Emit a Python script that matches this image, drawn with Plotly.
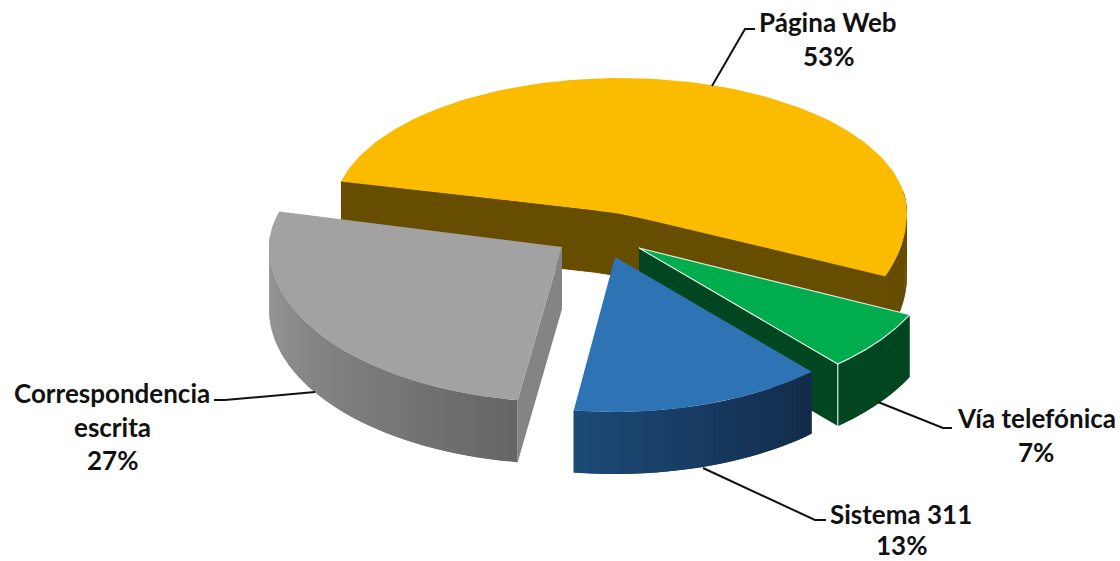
import numpy as np
import plotly.graph_objects as go

categories = ["Página Web", "Vía telefónica", "Sistema 311", "Correspondencia escrita"]
values = [53, 7, 13, 27]
label_lines = [["Página Web"], ["Vía telefónica"], ["Sistema 311"], ["Correspondencia", "escrita"]]

START = -76.5
DEPTH = 62
RY_BACK = 135
# per slice: centre x, centre y, radius x, front radius y
GEOM = [(620, 213, 287, 165), (639, 248, 300, 155), (615, 257, 293, 155), (562, 247, 293, 155)]
# small angular correction at each slice edge, standing in for the perspective of the 3D view
WARP = [(0, -1.8), (1.2, -1.0), (-1.7, 1.8), (2.4, 1.8)]
TOP = ["#FBBC00", "#00AD4E", "#2E74B5", "#A2A2A2"]
WALL = [("#674D00", "#674D00"), ("#004620", "#004620"), ("#132B4B", "#1C4A77"), ("#666666", "#9C9C9C")]
CUT = ["#674D00", "#004620", None, "#848484"]


def pt(i, deg):
    cx, cy, rx, ry_front = GEOM[i]
    t = np.radians(deg)
    c = np.cos(t)
    ry = RY_BACK if c > 0 else ry_front
    return cx + rx * np.sin(t), cy - ry * c


def arc(i, a, b, n=120):
    pts = [pt(i, d) for d in np.linspace(a, b, n)]
    return [p[0] for p in pts], [p[1] for p in pts]


def poly(fig, xs, ys, color, line=None, lw=0):
    fig.add_trace(go.Scatter(
        x=list(xs), y=list(ys), mode="lines", fill="toself", fillcolor=color,
        line=dict(color=line or color, width=lw), hoverinfo="skip", showlegend=False))


def mix(c1, c2, f):
    a = [int(c1[k:k + 2], 16) for k in (1, 3, 5)]
    b = [int(c2[k:k + 2], 16) for k in (1, 3, 5)]
    return "#%02X%02X%02X" % tuple(round(u + (v - u) * f) for u, v in zip(a, b))


def rounded_apex(p0, c, p1, r=32, n=10):
    """Path from p0 to p1 through the centre c, with the sharp corner softened."""
    p0, c, p1 = map(np.array, (p0, c, p1))
    u0 = c + (p0 - c) / np.linalg.norm(p0 - c) * r
    u1 = c + (p1 - c) / np.linalg.norm(p1 - c) * r
    ts = np.linspace(0, 1, n)
    curve = [(1 - t) ** 2 * u0 + 2 * t * (1 - t) * c + t ** 2 * u1 for t in ts]
    return [p[0] for p in curve], [p[1] for p in curve]


fig = go.Figure()
edges = START + np.cumsum([0] + [v * 3.6 for v in values])
spans = [(edges[i] + WARP[i][0], edges[i + 1] + WARP[i][1]) for i in range(4)]
cx_ = lambda i: GEOM[i][0]
cy_ = lambda i: GEOM[i][1]

for i in [0, 1, 2, 3]:
    a, b = spans[i]
    apex = None
    # outer wall: overlapping narrow strips give the horizontal gradient without seams.
    # Only the part of the rim facing the viewer is drawn.
    n = 40
    begin = max(a, 80) if i == 0 else a
    end = min(b, 275) if i == 3 else b
    ticks = np.linspace(begin, end, n + 1)
    for k in range(n):
        hi = ticks[min(k + 2, n)]
        ax, ay = arc(i, ticks[k], hi, 8)
        f = k / (n - 1)
        poly(fig, ax + ax[::-1], ay + [y + DEPTH for y in ay[::-1]], mix(WALL[i][0], WALL[i][1], f))
    # cut walls
    if i == 0:
        pa, pb = pt(0, a), pt(0, b)
        apex = rounded_apex(pb, (cx_(0), cy_(0)), pa)
        poly(fig, [pa[0]] + apex[0][::-1] + [pb[0], pb[0]] + apex[0] + [pa[0]],
             [pa[1]] + apex[1][::-1] + [pb[1], pb[1] + DEPTH] + [y + DEPTH for y in apex[1]] + [pa[1] + DEPTH],
             CUT[0], lw=1)
    if i == 1:
        xb, yb = pt(1, b)
        poly(fig, [cx_(1), xb, xb, cx_(1)], [cy_(1), yb, yb + DEPTH, cy_(1) + DEPTH], CUT[1])
    if i == 3:
        xa, ya = pt(3, a)
        poly(fig, [cx_(3), xa, xa, cx_(3)], [cy_(3), ya, ya + DEPTH, cy_(3) + DEPTH], CUT[3])
    # top face
    ax, ay = arc(i, a, b)
    if i == 0:
        poly(fig, apex[0] + ax, apex[1] + ay, TOP[i])
    elif i == 1:
        poly(fig, [cx_(i)] + ax + [cx_(i)], [cy_(i)] + ay + [cy_(i)], TOP[i], line="#DDEBE2", lw=1.2)
        xf, yf = pt(1, b)
        fig.add_trace(go.Scatter(x=[xf, xf], y=[yf, yf + DEPTH], mode="lines",
                                 line=dict(color="#DDEBE2", width=1.2), hoverinfo="skip", showlegend=False))
    else:
        poly(fig, [cx_(i)] + ax + [cx_(i)], [cy_(i)] + ay + [cy_(i)], TOP[i])

# leader lines
leaders = [
    ([712, 745, 755], [86, 29, 29]),
    ([878, 943, 952], [402, 428, 428]),
    ([703, 815, 826], [468, 520, 520]),
    ([315, 225, 214], [392, 400, 400]),
]
for lx, ly in leaders:
    fig.add_trace(go.Scatter(x=lx, y=ly, mode="lines", line=dict(color="#111111", width=2),
                             hoverinfo="skip", showlegend=False))

# labels: centre x, first-line y, line step
anchors = [(828, 22, 33.5), (1036, 418, 33.5), (901, 514, 31), (112, 393, 33.5)]
for lines, val, (ax_, ay_, step) in zip(label_lines, values, anchors):
    for j, txt in enumerate(lines + [f"{val}%"]):
        fig.add_annotation(x=ax_, y=ay_ + j * step, text=f"<b>{txt}</b>", showarrow=False,
                           xanchor="center", yanchor="middle",
                           font=dict(family="Lato", size=26, color="#111111"))

fig.update_layout(
    width=1120, height=561, margin=dict(l=0, r=0, t=0, b=0),
    paper_bgcolor="white", plot_bgcolor="white", showlegend=False,
    xaxis=dict(range=[0, 1120], visible=False, fixedrange=True),
    yaxis=dict(range=[561, 0], visible=False, fixedrange=True),
)
fig.write_html("out.html", config={"displayModeBar": False},
               post_script="document.body.style.margin='0';")
